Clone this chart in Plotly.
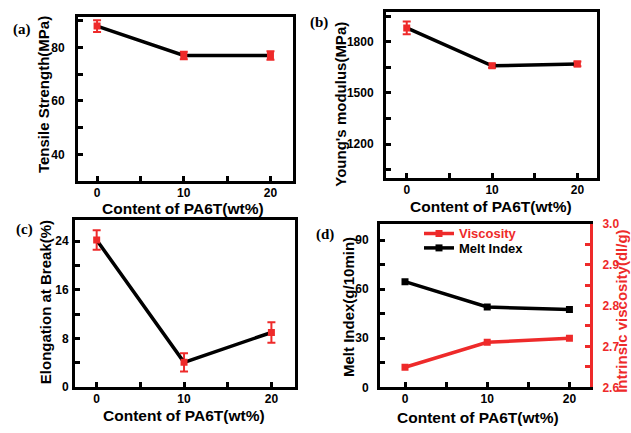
import plotly.graph_objects as go

# ---- data ----
content = [0, 10, 20]
tensile = [88.0, 77.0, 77.0]
tensile_err = [2.2, 1.4, 1.6]
modulus = [1881, 1659, 1670]
modulus_err = [38, 12, 14]
elongation = [24.2, 4.1, 9.0]
elongation_err = [1.6, 1.5, 1.7]
melt_index = [64.6, 49.1, 47.5]
viscosity = [2.649, 2.710, 2.720]

x_title = "Content of PA6T(wt%)"
y_titles = ["Tensile Strength(MPa)", "Young's modulus(MPa)", "Elongation at Break(%)",
            "Melt Index(g/10min)", "Intrinsic viscosity(dl/g)"]
FONT = "Arial, Liberation Sans, sans-serif"
RED = "#ee2a2a"
W, H = 631, 433

fig = go.Figure()

def err_trace(y, e, xa, ya):
    return go.Scatter(
        x=content, y=y, xaxis=xa, yaxis=ya, mode="lines+markers",
        line=dict(color="black", width=3.5),
        marker=dict(symbol="square", size=7, color=RED),
        error_y=dict(type="data", array=e, color=RED, thickness=2, width=4),
        showlegend=False)

fig.add_trace(err_trace(tensile, tensile_err, "x", "y"))
fig.add_trace(err_trace(modulus, modulus_err, "x2", "y2"))
fig.add_trace(err_trace(elongation, elongation_err, "x3", "y3"))

fig.add_trace(go.Scatter(
    x=content, y=viscosity, xaxis="x4", yaxis="y5", mode="lines+markers",
    name="Viscosity", legend="legend",
    line=dict(color=RED, width=3.5),
    marker=dict(symbol="square", size=7, color=RED)))
fig.add_trace(go.Scatter(
    x=content, y=melt_index, xaxis="x4", yaxis="y4", mode="lines+markers",
    name="Melt Index", legend="legend2",
    line=dict(color="black", width=3.5),
    marker=dict(symbol="square", size=7, color="black")))

def xax(domain, rng, anchor):
    return dict(domain=domain, range=rng, anchor=anchor,
                showline=True, mirror=True, linecolor="black", linewidth=3,
                ticks="inside", ticklen=5, tickwidth=3, tickcolor="black",
                tick0=0, dtick=10, showgrid=False, zeroline=False,
                minor=dict(ticks="inside", dtick=5, ticklen=5, tickwidth=3, tickcolor="black"),
                tickfont=dict(family=FONT, size=12, color="black", weight="bold"),
                ticklabelstandoff=-2)

def yax(domain, rng, anchor, dtick, minor, standoff, mirror=True, color="black", side="left",
        fmt=None, overlaying=None):
    d = dict(domain=domain, range=rng, anchor=anchor, side=side,
             showline=True, mirror=mirror, linecolor=color, linewidth=3,
             ticks="inside", ticklen=5, tickwidth=3, tickcolor=color,
             tick0=0, dtick=dtick, showgrid=False, zeroline=False,
             minor=dict(ticks="inside", dtick=minor, ticklen=5, tickwidth=3, tickcolor=color),
             tickfont=dict(family=FONT, size=12, color=color, weight="bold"),
             ticklabelstandoff=standoff)
    if fmt:
        d["tickformat"] = fmt
    if overlaying:
        d["overlaying"] = overlaying
    return d

def legend_at(px, py, color):
    return dict(x=px / W, y=1 - py / H, xanchor="left", yanchor="middle",
                bgcolor="rgba(0,0,0,0)", borderwidth=0, itemwidth=30,
                font=dict(family=FONT, size=13, color=color, weight="bold"))

fig.update_layout(
    width=W, height=H, margin=dict(l=0, r=0, t=0, b=0),
    paper_bgcolor="white", plot_bgcolor="white",
    xaxis=xax([78 / W, 293 / W], [-2.2, 22.6], "y"),
    yaxis=yax([1 - 180 / H, 1 - 10 / H], [30, 91.5], "x", 20, 10, 8),
    xaxis2=xax([386 / W, 597 / W], [-2.43, 22.3], "y2"),
    yaxis2=yax([1 - 177 / H, 1 - 5 / H], [1000, 1975], "x2", 300, 150, 7),
    xaxis3=xax([75 / W, 295 / W], [-2.48, 22.7], "y3"),
    yaxis3=yax([1 - 393 / H, 1 - 220 / H], [0, 27.5], "x3", 8, 4, 1),
    xaxis4=xax([380 / W, 590 / W], [-3.04, 22.5], "y4"),
    yaxis4=yax([1 - 393 / H, 1 - 224 / H], [0, 100], "x4", 30, 15, 6, mirror=False),
    yaxis5=yax([1 - 393 / H, 1 - 224 / H], [2.6, 3.0], "x4", 0.1, 0.05, 7,
               mirror=False, color=RED, side="right", fmt=".1f", overlaying="y4"),
    legend=legend_at(419, 234, RED),
    legend2=legend_at(419, 249, "black"),
)

def label(text, px, py, size, color="black", angle=0, family=FONT):
    fig.add_annotation(text=text, x=px / W, y=1 - py / H, xref="paper", yref="paper",
                       showarrow=False, xanchor="center", yanchor="middle", textangle=angle,
                       font=dict(family=family, size=size, color=color, weight="bold"))

# x-axis titles
for px, py in [(183, 208), (491, 206), (184, 422), (478, 424)]:
    label(x_title, px, py, 15.5)
# y-axis titles
label(y_titles[0], 43, 91, 15, angle=-90)
label(y_titles[1], 341, 101, 15, angle=-90)
label(y_titles[2], 45, 305, 15, angle=-90)
label(y_titles[3], 349, 310, 15, angle=-90)
label(y_titles[4], 622, 315, 15, color=RED, angle=-90)

# panel labels
SERIF = "Liberation Serif, Times New Roman, serif"
for t, px, py in [("(a)", 22, 23), ("(b)", 319, 16), ("(c)", 24, 230), ("(d)", 325, 235)]:
    label(t, px, py, 15, family=SERIF)

fig.write_html("out.html")
